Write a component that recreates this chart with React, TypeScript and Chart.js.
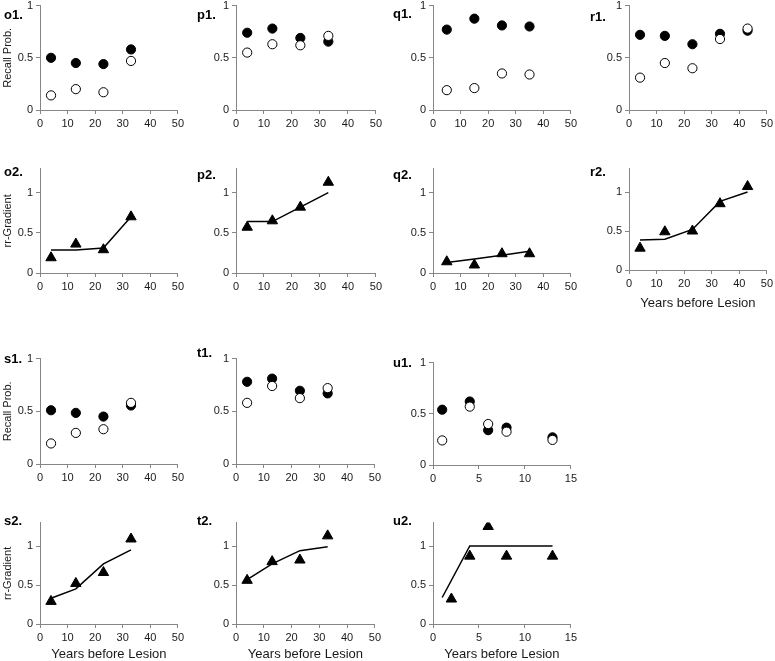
import React, { useEffect, useRef } from 'react';
import { Chart, registerables } from 'chart.js';
Chart.register(...registerables);

Chart.defaults.font.family = '"Liberation Sans", Arial, sans-serif';

// ---------- data ----------
const recallTicks = [0, 0.5, 1];
const rrTicks = [0, 0.5, 1];
const yearTicks50 = [0, 10, 20, 30, 40, 50];
const yearTicks15 = [0, 5, 10, 15];

const o1Years = [4, 13, 23, 33];
const o1Filled = [0.5, 0.45, 0.44, 0.58];
const o1Open = [0.14, 0.2, 0.17, 0.47];

const p1Years = [4, 13, 23, 33];
const p1Filled = [0.74, 0.78, 0.69, 0.655];
const p1Open = [0.55, 0.63, 0.62, 0.71];

const q1Years = [5, 15, 25, 35];
const q1Filled = [0.77, 0.875, 0.81, 0.8];
const q1Open = [0.19, 0.21, 0.35, 0.34];

const r1Years = [4, 13, 23, 33, 43];
const r1Filled = [0.72, 0.71, 0.63, 0.73, 0.76];
const r1Open = [0.31, 0.45, 0.4, 0.68, 0.78];

const o2Years = [4, 13, 23, 33];
const o2Gradient = [0.19, 0.36, 0.29, 0.7];
const o2Fit = [0.285, 0.285, 0.31, 0.7];

const p2Years = [4, 13, 23, 33];
const p2Gradient = [0.57, 0.65, 0.82, 1.13];
const p2Fit = [0.64, 0.64, 0.82, 1.0];

const q2Years = [5, 15, 25, 35];
const q2Gradient = [0.14, 0.1, 0.24, 0.24];
const q2Fit = [0.13, 0.175, 0.22, 0.27];

const r2Years = [4, 13, 23, 33, 43];
const r2Gradient = [0.28, 0.49, 0.5, 0.85, 1.07];
const r2Fit = [0.385, 0.395, 0.52, 0.88, 1.0];

const s1Years = [4, 13, 23, 33];
const s1Filled = [0.51, 0.485, 0.45, 0.555];
const s1Open = [0.195, 0.295, 0.33, 0.58];

const t1Years = [4, 13, 23, 33];
const t1Filled = [0.78, 0.81, 0.695, 0.67];
const t1Open = [0.58, 0.74, 0.625, 0.72];

const u1Years = [1, 4, 6, 8, 13];
const u1Filled = [0.54, 0.62, 0.34, 0.365, 0.27];
const u1Open = [0.24, 0.57, 0.4, 0.325, 0.245];

const s2Years = [4, 13, 23, 33];
const s2Gradient = [0.29, 0.52, 0.66, 1.09];
const s2Fit = [0.33, 0.45, 0.77, 0.95];

const t2Years = [4, 13, 23, 33];
const t2Gradient = [0.56, 0.8, 0.82, 1.13];
const t2Fit = [0.57, 0.77, 0.94, 0.99];

const u2Years = [2, 4, 6, 8, 13];
const u2Gradient = [0.32, 0.87, 1.25, 0.87, 0.87];
const u2FitYears = [1, 4, 6, 8, 13];
const u2Fit = [0.34, 1.0, 1.0, 1.0, 1.0];

// ---------- layout ----------
type Spec = {
  label: string;
  labelX: number;
  labelY: number;
  x0: number;
  x1: number;
  yTop: number;
  yBottom: number;
  xMax: number;
  xTicks: number[];
  yMax: number;
  yTicks: number[];
  kind: 'recall' | 'rr';
  years: number[];
  a: number[];
  b: number[];
  fitYears?: number[];
  yTitle?: string;
  xTitle?: string;
  xAxisH: number;
};

const AXIS = '#868686';
const TEXT = '#1a1a1a';
const PAD_TOP = 8;
const PAD_R = 7;
const YW = 40;

const specs: Spec[] = [
  { label: 'o1.', labelX: 4, labelY: 15, x0: 40, x1: 180, yTop: 4, yBottom: 110, xMax: 50, xTicks: yearTicks50, yMax: 1, yTicks: recallTicks, kind: 'recall', years: o1Years, a: o1Filled, b: o1Open, yTitle: 'Recall Prob.', xAxisH: 22 },
  { label: 'p1.', labelX: 197, labelY: 15, x0: 236, x1: 378, yTop: 4, yBottom: 110, xMax: 50, xTicks: yearTicks50, yMax: 1, yTicks: recallTicks, kind: 'recall', years: p1Years, a: p1Filled, b: p1Open, xAxisH: 22 },
  { label: 'q1.', labelX: 393, labelY: 14, x0: 433, x1: 573, yTop: 4, yBottom: 110, xMax: 50, xTicks: yearTicks50, yMax: 1, yTicks: recallTicks, kind: 'recall', years: q1Years, a: q1Filled, b: q1Open, xAxisH: 22 },
  { label: 'r1.', labelX: 590, labelY: 17, x0: 629, x1: 769, yTop: 4, yBottom: 110, xMax: 50, xTicks: yearTicks50, yMax: 1, yTicks: recallTicks, kind: 'recall', years: r1Years, a: r1Filled, b: r1Open, xAxisH: 22 },

  { label: 'o2.', labelX: 4, labelY: 172, x0: 40, x1: 180, yTop: 167, yBottom: 273, xMax: 50, xTicks: yearTicks50, yMax: 1.3, yTicks: rrTicks, kind: 'rr', years: o2Years, a: o2Gradient, b: o2Fit, yTitle: 'rr-Gradient', xAxisH: 22 },
  { label: 'p2.', labelX: 197, labelY: 175, x0: 236, x1: 378, yTop: 167, yBottom: 273, xMax: 50, xTicks: yearTicks50, yMax: 1.3, yTicks: rrTicks, kind: 'rr', years: p2Years, a: p2Gradient, b: p2Fit, xAxisH: 22 },
  { label: 'q2.', labelX: 393, labelY: 175, x0: 433, x1: 573, yTop: 167, yBottom: 273, xMax: 50, xTicks: yearTicks50, yMax: 1.3, yTicks: rrTicks, kind: 'rr', years: q2Years, a: q2Gradient, b: q2Fit, xAxisH: 22 },
  { label: 'r2.', labelX: 590, labelY: 172, x0: 629, x1: 769, yTop: 167, yBottom: 270, xMax: 50, xTicks: yearTicks50, yMax: 1.3, yTicks: rrTicks, kind: 'rr', years: r2Years, a: r2Gradient, b: r2Fit, xTitle: 'Years before Lesion', xAxisH: 41 },

  { label: 's1.', labelX: 4, labelY: 359, x0: 40, x1: 180, yTop: 357, yBottom: 464, xMax: 50, xTicks: yearTicks50, yMax: 1, yTicks: recallTicks, kind: 'recall', years: s1Years, a: s1Filled, b: s1Open, yTitle: 'Recall Prob.', xAxisH: 22 },
  { label: 't1.', labelX: 197, labelY: 353, x0: 236, x1: 377, yTop: 357, yBottom: 464, xMax: 50, xTicks: yearTicks50, yMax: 1, yTicks: recallTicks, kind: 'recall', years: t1Years, a: t1Filled, b: t1Open, xAxisH: 22 },
  { label: 'u1.', labelX: 393, labelY: 363, x0: 433, x1: 573, yTop: 361, yBottom: 465, xMax: 15, xTicks: yearTicks15, yMax: 1, yTicks: recallTicks, kind: 'recall', years: u1Years, a: u1Filled, b: u1Open, xAxisH: 22 },

  { label: 's2.', labelX: 4, labelY: 521, x0: 40, x1: 180, yTop: 521, yBottom: 624, xMax: 50, xTicks: yearTicks50, yMax: 1.3, yTicks: rrTicks, kind: 'rr', years: s2Years, a: s2Gradient, b: s2Fit, yTitle: 'rr-Gradient', xTitle: 'Years before Lesion', xAxisH: 38 },
  { label: 't2.', labelX: 197, labelY: 521, x0: 236, x1: 377, yTop: 521, yBottom: 624, xMax: 50, xTicks: yearTicks50, yMax: 1.3, yTicks: rrTicks, kind: 'rr', years: t2Years, a: t2Gradient, b: t2Fit, xTitle: 'Years before Lesion', xAxisH: 38 },
  { label: 'u2.', labelX: 393, labelY: 521, x0: 433, x1: 573, yTop: 521, yBottom: 624, xMax: 15, xTicks: yearTicks15, yMax: 1.3, yTicks: rrTicks, kind: 'rr', years: u2Years, a: u2Gradient, b: u2Fit, fitYears: u2FitYears, xTitle: 'Years before Lesion', xAxisH: 38 },
];

function Panel({ s }: { s: Spec }) {
  const ref = useRef<HTMLCanvasElement | null>(null);
  const left = s.x0 - YW;
  const top = s.yTop - PAD_TOP;
  const width = YW + (s.x1 - s.x0) + PAD_R;
  const height = PAD_TOP + (s.yBottom - s.yTop) + s.xAxisH;

  useEffect(() => {
    if (!ref.current) return;
    const pts = (xs: number[], ys: number[]) => ys.map((y, i) => ({ x: xs[i], y }));
    let datasets: any[];
    if (s.kind === 'recall') {
      datasets = [
        { data: pts(s.years, s.b), pointStyle: 'circle', pointRadius: 4.6, backgroundColor: '#ffffff', borderColor: '#000000', pointBorderWidth: 1 },
        { data: pts(s.years, s.a), pointStyle: 'circle', pointRadius: 4.6, backgroundColor: '#000000', borderColor: '#000000', pointBorderWidth: 1 },
      ];
    } else {
      datasets = [
        { data: pts(s.years, s.a), pointStyle: 'triangle', pointRadius: 6, backgroundColor: '#000000', borderColor: '#000000', pointBorderWidth: 1 },
        { data: pts(s.fitYears || s.years, s.b), showLine: true, pointRadius: 0, borderColor: '#000000', borderWidth: 1.5, backgroundColor: '#000000' },
      ];
    }
    const tickFont = { size: 11 };
    const chart = new Chart(ref.current, {
      type: 'scatter',
      data: { datasets },
      options: {
        responsive: false,
        animation: false,
        events: [],
        layout: { padding: { left: 0, right: PAD_R, top: PAD_TOP, bottom: 0 } },
        plugins: { legend: { display: false }, tooltip: { enabled: false } },
        scales: {
          x: {
            type: 'linear',
            min: 0,
            max: s.xMax,
            afterBuildTicks: (sc: any) => { sc.ticks = s.xTicks.map((v) => ({ value: v })); },
            afterFit: (sc: any) => { sc.height = s.xAxisH; },
            ticks: { font: tickFont, color: TEXT, padding: 3, maxRotation: 0, callback: (v: any) => String(v) },
            grid: { drawOnChartArea: false, drawTicks: true, tickLength: 4, color: AXIS },
            border: { display: true, color: AXIS, width: 1 },
            title: s.xTitle
              ? { display: true, text: s.xTitle, font: { size: 13 }, color: TEXT, padding: { top: 0, bottom: 0 } }
              : { display: false },
          },
          y: {
            type: 'linear',
            min: 0,
            max: s.yMax,
            afterBuildTicks: (sc: any) => { sc.ticks = s.yTicks.map((v) => ({ value: v })); },
            afterFit: (sc: any) => { sc.width = YW; },
            ticks: { font: tickFont, color: TEXT, padding: 3, callback: (v: any) => String(v) },
            grid: { drawOnChartArea: false, drawTicks: true, tickLength: 4, color: AXIS },
            border: { display: true, color: AXIS, width: 1 },
            title: s.yTitle
              ? { display: true, text: s.yTitle, font: { size: 11 }, color: TEXT, padding: { top: 1.5, bottom: 0 } }
              : { display: false },
          },
        },
      } as any,
    });
    return () => chart.destroy();
  }, [s]);

  return (
    <>
      <canvas
        ref={ref}
        width={width}
        height={height}
        style={{ position: 'absolute', left, top, width, height }}
      />
      <div
        style={{
          position: 'absolute',
          left: s.labelX,
          top: s.labelY - 8,
          fontSize: 13,
          lineHeight: '16px',
          fontWeight: 'bold',
          color: '#000',
          whiteSpace: 'nowrap',
        }}
      >
        {s.label}
      </div>
    </>
  );
}

export default function App() {
  return (
    <div
      style={{
        position: 'absolute',
        left: 0,
        top: 0,
        width: 775,
        height: 661,
        overflow: 'hidden',
        background: '#ffffff',
        fontFamily: '"Liberation Sans", Arial, sans-serif',
      }}
    >
      {specs.map((s) => (
        <Panel key={s.label} s={s} />
      ))}
    </div>
  );
}
